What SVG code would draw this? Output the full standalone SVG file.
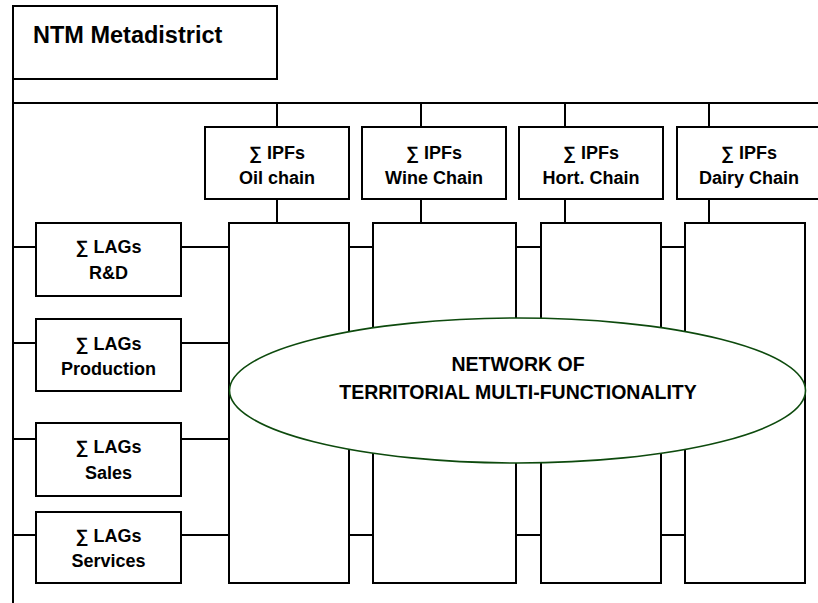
<svg xmlns="http://www.w3.org/2000/svg" width="818" height="603" viewBox="0 0 818 603">
<style>
.box{fill:#fff;stroke:#000;stroke-width:2}
.ln{fill:none;stroke:#000;stroke-width:2}
.t{font-family:"Liberation Sans",Arial,sans-serif;font-weight:bold;fill:#000;text-anchor:middle;font-size:18px}
.big{font-size:23.5px;text-anchor:start}
.ell{fill:#fff;stroke:#0d4a0d;stroke-width:1.6}
.et{font-size:19.5px}
</style>
<rect width="818" height="603" fill="#fff"/>
<g id="connectors">
<polyline class="ln" points="13,79 13,603"/>
<line class="ln" x1="13" y1="103" x2="818" y2="103"/>
<line class="ln" x1="277" y1="103" x2="277" y2="127"/>
<line class="ln" x1="421" y1="103" x2="421" y2="127"/>
<line class="ln" x1="565" y1="103" x2="565" y2="127"/>
<line class="ln" x1="709" y1="103" x2="709" y2="127"/>
<line class="ln" x1="277" y1="199" x2="277" y2="223"/>
<line class="ln" x1="421" y1="199" x2="421" y2="223"/>
<line class="ln" x1="565" y1="199" x2="565" y2="223"/>
<line class="ln" x1="709" y1="199" x2="709" y2="223"/>
<g id="rows">
<line class="ln" x1="13" y1="247" x2="36" y2="247"/><line class="ln" x1="181" y1="247" x2="229" y2="247"/><line class="ln" x1="349" y1="247" x2="373" y2="247"/><line class="ln" x1="516" y1="247" x2="541" y2="247"/><line class="ln" x1="661" y1="247" x2="685" y2="247"/>
<line class="ln" x1="13" y1="343" x2="36" y2="343"/><line class="ln" x1="181" y1="343" x2="229" y2="343"/><line class="ln" x1="349" y1="343" x2="373" y2="343"/><line class="ln" x1="516" y1="343" x2="541" y2="343"/><line class="ln" x1="661" y1="343" x2="685" y2="343"/>
<line class="ln" x1="13" y1="439" x2="36" y2="439"/><line class="ln" x1="181" y1="439" x2="229" y2="439"/><line class="ln" x1="349" y1="439" x2="373" y2="439"/><line class="ln" x1="516" y1="439" x2="541" y2="439"/><line class="ln" x1="661" y1="439" x2="685" y2="439"/>
<line class="ln" x1="13" y1="535" x2="36" y2="535"/><line class="ln" x1="181" y1="535" x2="229" y2="535"/><line class="ln" x1="349" y1="535" x2="373" y2="535"/><line class="ln" x1="516" y1="535" x2="541" y2="535"/><line class="ln" x1="661" y1="535" x2="685" y2="535"/>
</g>
</g>
<g id="ntm"><rect class="box" x="13" y="6" width="264" height="73"/><text class="t big" x="33" y="43">NTM Metadistrict</text></g>
<g id="ipf-oil"><rect class="box" x="205" y="127" width="144" height="72"/><text class="t" x="277" y="159">∑ IPFs</text><text class="t" x="277" y="184">Oil chain</text></g>
<g id="ipf-wine"><rect class="box" x="362" y="127" width="144" height="72"/><text class="t" x="434" y="159">∑ IPFs</text><text class="t" x="434" y="184">Wine Chain</text></g>
<g id="ipf-hort"><rect class="box" x="519" y="127" width="144" height="72"/><text class="t" x="591" y="159">∑ IPFs</text><text class="t" x="591" y="184">Hort. Chain</text></g>
<g id="ipf-dairy"><rect class="box" x="677" y="127" width="145" height="72"/><text class="t" x="749" y="159">∑ IPFs</text><text class="t" x="749" y="184">Dairy Chain</text></g>
<g id="lag-rd"><rect class="box" x="36" y="223" width="145" height="73"/><text class="t" x="108.5" y="253">∑ LAGs</text><text class="t" x="108.5" y="279">R&amp;D</text></g>
<g id="lag-prod"><rect class="box" x="36" y="319" width="145" height="72"/><text class="t" x="108.5" y="350">∑ LAGs</text><text class="t" x="108.5" y="375">Production</text></g>
<g id="lag-sales"><rect class="box" x="36" y="423" width="145" height="73"/><text class="t" x="108.5" y="453">∑ LAGs</text><text class="t" x="108.5" y="479">Sales</text></g>
<g id="lag-services"><rect class="box" x="36" y="512" width="145" height="71"/><text class="t" x="108.5" y="542">∑ LAGs</text><text class="t" x="108.5" y="567">Services</text></g>
<g id="col-oil"><rect class="box" x="229" y="223" width="120" height="360"/></g>
<g id="col-wine"><rect class="box" x="373" y="223" width="143" height="360"/></g>
<g id="col-hort"><rect class="box" x="541" y="223" width="120" height="360"/></g>
<g id="col-dairy"><rect class="box" x="685" y="223" width="120" height="360"/></g>
<g id="network"><ellipse class="ell" cx="517.5" cy="390.5" rx="288" ry="72.5"/><text class="t et" x="518" y="371">NETWORK OF</text><text class="t et" x="518" y="399">TERRITORIAL MULTI-FUNCTIONALITY</text></g>
</svg>
